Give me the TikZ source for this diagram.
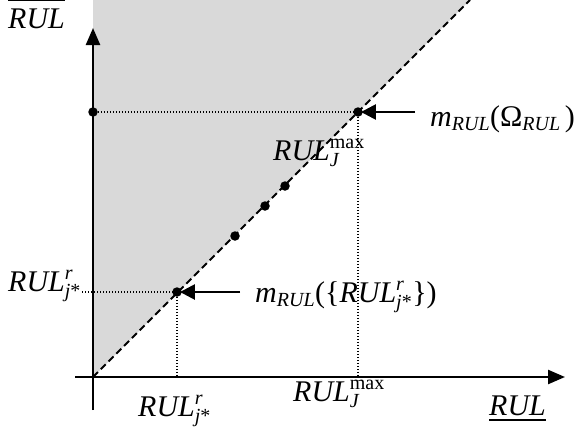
\documentclass[tikz,border=0pt]{standalone}
\usepackage{amsmath}
\usepackage{fontspec}
\setmainfont{Liberation Serif}
\usetikzlibrary{arrows.meta}
\DeclareMathSizes{30}{30}{20}{15}
\newcommand{\ri}[1]{\text{\itshape #1}}
\newcommand{\ru}[1]{\text{\upshape #1}}
\begin{document}
\begin{tikzpicture}[x=1pt,y=-1pt,
  axisline/.style={line width=2.4pt,-{Triangle[length=17pt,width=14pt]}},
  diag/.style={line width=2pt,dash pattern=on 7pt off 4pt},
  guide/.style={line width=1.1pt,dash pattern=on 1pt off 2pt},
  pt/.style={circle,fill=black,inner sep=0pt,minimum size=9.5pt},
  annot/.style={line width=2.6pt,-{Triangle[length=15pt,width=15pt]},shorten >=-2pt},
  lab/.style={inner sep=0pt,anchor=base west,font=\fontsize{30}{34}\selectfont},
  barline/.style={line width=1.3pt}]
\useasboundingbox (0,0) rectangle (577,439);
% shaded region
\coordinate (O) at (93,377);
\coordinate (T) at (470,0);
\fill[gray!30] (O) -- (93,0) -- (T) -- cycle;
% axes
\coordinate (xs) at (75,377);
\coordinate (xe) at (565,377);
\coordinate (ys) at (93,410);
\coordinate (ye) at (93,28);
\draw[axisline] (xs) -- (xe);
\draw[axisline] (ys) -- (ye);
% diagonal
\draw[diag] (O) -- (T);
% points
\node[pt] (P1) at (177,292) {};
\node[pt] (P2) at (358,112) {};
\node[pt] (Y2) at (93,112) {};
\node[pt] (d1) at (235,236) {};
\node[pt] (d2) at (265,206) {};
\node[pt] (d3) at (285,186) {};
% labels
\node[lab] (ylab) at (8,28) {\itshape RUL};
\draw[barline] ([yshift=8pt]ylab.north west) -- ([yshift=8pt]ylab.north east);
\node[lab] (xlab) at (489,415) {\itshape RUL};
\draw[barline] ([yshift=-5pt]xlab.base west) -- ([yshift=-5pt]xlab.base east);
\node[lab] (midmax) at (273,160) {$\ri{RUL}^{\ru{max}}_{\ri{J}}$};
\node[lab] (momega) at (430,126) {$\ri{m}_{\ri{RUL}}\text{(}\ru{Ω}_{\ri{RUL}}\,\text{)}$};
\node[lab] (leftr) at (8,291) {$\ri{RUL}^{\ri{r}}_{\ri{j}\ru{*}}$};
\node[lab] (mset) at (255,302) {$\ri{m}_{\ri{RUL}}\text{(\{}\ri{RUL}^{\ri{r}}_{\ri{j}\ru{*}}\text{\})}$};
\node[lab] (botr) at (138,416) {$\ri{RUL}^{\ri{r}}_{\ri{j}\ru{*}}$};
\node[lab] (botmax) at (293,401) {$\ri{RUL}^{\ru{max}}_{\ri{J}}$};
% guides
\coordinate (g1) at (82,292);
\draw[guide] (g1) -- (P1);
\draw[guide] (P1) -- (P1 |- O);
\draw[guide] (Y2) -- (P2);
\draw[guide] (P2) -- (P2 |- O);
% annotation arrows
\coordinate (a1) at (415,112);
\coordinate (a2) at (240,292);
\draw[annot] (a1) -- (P2);
\draw[annot] (a2) -- (P1);
\end{tikzpicture}
\end{document}
